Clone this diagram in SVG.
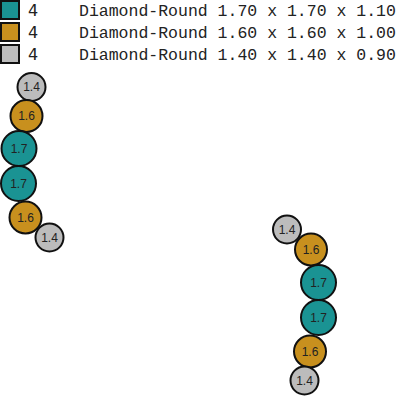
<svg xmlns="http://www.w3.org/2000/svg" width="397" height="396" viewBox="0 0 397 396">
<style>
.sw{stroke:#111;stroke-width:2}
.n{stroke:#111;stroke-width:2}
.t{fill:#1a9393}
.g{fill:#c8901e}
.s{fill:#bcbcbc}
.cnt{font-family:"DejaVu Sans",Verdana,sans-serif;font-size:16px;fill:#222}
.lbl{font-family:"Liberation Mono","DejaVu Sans Mono",monospace;font-size:16.5px;fill:#222}
.nl{font-family:"Liberation Sans",Arial,sans-serif;font-size:12px;fill:#222;text-anchor:middle;dominant-baseline:central}
</style>
<rect width="397" height="396" fill="#fff"/>
<g id="legend">
<rect class="sw t" x="1" y="1" width="18" height="18"/>
<text class="cnt" x="28" y="16">4</text>
<text class="lbl" x="79" y="16">Diamond-Round 1.70 x 1.70 x 1.10</text>
<rect class="sw g" x="1" y="23" width="18" height="18"/>
<text class="cnt" x="28" y="38">4</text>
<text class="lbl" x="79" y="38">Diamond-Round 1.60 x 1.60 x 1.00</text>
<rect class="sw s" x="1" y="45" width="18" height="18"/>
<text class="cnt" x="28" y="60">4</text>
<text class="lbl" x="79" y="60">Diamond-Round 1.40 x 1.40 x 0.90</text>
</g>
<g id="connectors"></g>
<g id="L1"><circle class="n s" cx="31.5" cy="87" r="14"/><text class="nl" x="31.5" y="87">1.4</text></g>
<g id="L2"><circle class="n g" cx="26.5" cy="116" r="16"/><text class="nl" x="26.5" y="116">1.6</text></g>
<g id="L3"><circle class="n t" cx="19" cy="148.5" r="17.5"/><text class="nl" x="19" y="148.5">1.7</text></g>
<g id="L4"><circle class="n t" cx="18.5" cy="183.5" r="17.5"/><text class="nl" x="18.5" y="183.5">1.7</text></g>
<g id="L5"><circle class="n g" cx="25.5" cy="217.5" r="16"/><text class="nl" x="25.5" y="217.5">1.6</text></g>
<g id="L6"><circle class="n s" cx="49.5" cy="237.5" r="14"/><text class="nl" x="49.5" y="237.5">1.4</text></g>
<g id="R1"><circle class="n s" cx="287" cy="229.5" r="14"/><text class="nl" x="287" y="229.5">1.4</text></g>
<g id="R2"><circle class="n g" cx="311" cy="249.5" r="16"/><text class="nl" x="311" y="249.5">1.6</text></g>
<g id="R3"><circle class="n t" cx="318.5" cy="282.5" r="17.5"/><text class="nl" x="318.5" y="282.5">1.7</text></g>
<g id="R4"><circle class="n t" cx="318.5" cy="317.5" r="17.5"/><text class="nl" x="318.5" y="317.5">1.7</text></g>
<g id="R5"><circle class="n g" cx="310" cy="351.5" r="16"/><text class="nl" x="310" y="351.5">1.6</text></g>
<g id="R6"><circle class="n s" cx="304.5" cy="380.5" r="14"/><text class="nl" x="304.5" y="380.5">1.4</text></g>
</svg>
